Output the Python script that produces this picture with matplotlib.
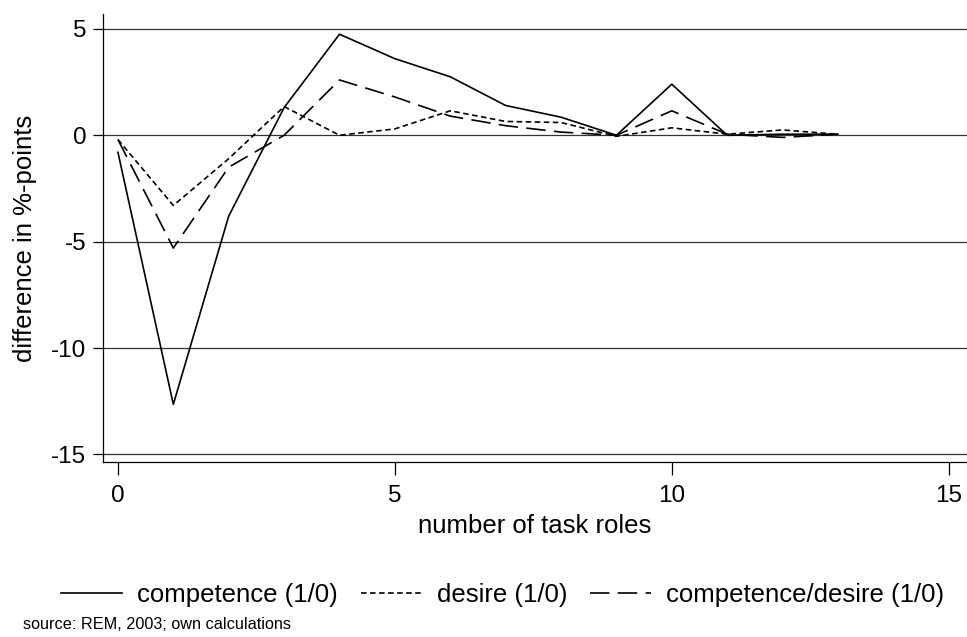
import matplotlib
matplotlib.use("Agg")
from matplotlib import pyplot as plt

plt.rcParams['font.family'] = ['Liberation Sans', 'DejaVu Sans']
plt.rcParams['lines.scale_dashes'] = False
plt.rcParams['axes.unicode_minus'] = False

# number of task roles
roles = [0, 1, 2, 3, 4, 5, 6, 7, 8, 9, 10, 11, 12, 13]

# difference in %-points
competence = [-0.8, -12.65, -3.8, 1.3, 4.75, 3.6, 2.75, 1.4, 0.85, 0.0, 2.4, 0.0, 0.05, 0.05]
desire = [-0.2, -3.3, -1.1, 1.35, 0.0, 0.3, 1.15, 0.65, 0.6, -0.05, 0.35, 0.05, 0.25, 0.05]
comp_desire = [-0.2, -5.3, -1.5, 0.0, 2.6, 1.8, 0.9, 0.45, 0.15, 0.0, 1.15, 0.05, -0.1, 0.05]

labels = ['competence (1/0)', 'desire (1/0)', 'competence/desire (1/0)']
x_ticks = [0, 5, 10, 15]
y_ticks = [5, 0, -5, -10, -15]

fig = plt.figure(figsize=(9.67, 6.37), dpi=100)
ax = fig.add_axes([0.1065, 0.275, 0.8935, 0.703])

lw = 1.2
ax.plot(roles, competence, color='black', lw=lw, label=labels[0])
ax.plot(roles, desire, color='black', lw=lw, dashes=(4, 2.5), label=labels[1])
ax.plot(roles, comp_desire, color='black', lw=lw, dashes=(14, 6), label=labels[2])

for y in y_ticks:
    ax.axhline(y, color='#333333', lw=0.9, zorder=0)

ax.set_xlim(-0.27, 15.33)
ax.set_ylim(-15.35, 5.7)
ax.set_xticks(x_ticks)
ax.set_yticks(y_ticks)
ax.tick_params(axis='x', length=9, width=0.9, labelsize=17.5, pad=8)
ax.tick_params(axis='y', length=7, width=0.9, labelsize=17.5, pad=5)
for side in ['top', 'right']:
    ax.spines[side].set_visible(False)
for side in ['left', 'bottom']:
    ax.spines[side].set_linewidth(0.9)

ax.set_xlabel('number of task roles', fontsize=18.5, labelpad=5)
ax.set_ylabel('difference in %-points', fontsize=18.5, labelpad=10)

fig.legend(loc='center', bbox_to_anchor=(0.52, 0.066), ncol=3, frameon=False,
           fontsize=18.5, handlelength=2.35, columnspacing=0.9, handletextpad=0.6)

fig.text(0.024, 0.012, 'source: REM, 2003; own calculations', fontsize=11.7)

fig.savefig('out.png', dpi=100)
